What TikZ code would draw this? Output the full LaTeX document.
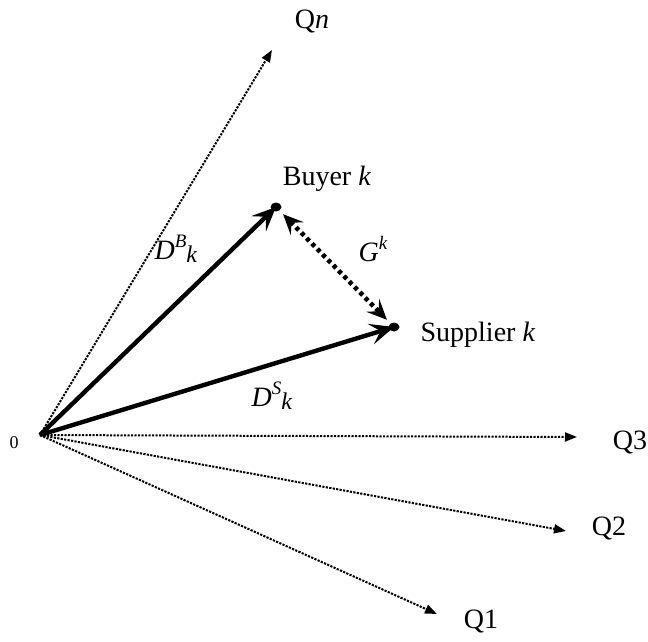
\documentclass[tikz,border=0pt]{standalone}
\usepackage{fontspec}
\setmainfont{Liberation Serif}
\usetikzlibrary{arrows.meta,shapes.geometric}
\newcommand{\supit}[1]{\raisebox{0.42em}{\fontsize{19}{20}\selectfont\textit{#1}}}
\newcommand{\subit}[1]{\raisebox{-0.12em}{\fontsize{24}{26}\selectfont\textit{#1}}}
\begin{document}
\begin{tikzpicture}[x=1pt,y=-1pt,
  lbl/.style={font=\fontsize{28}{30}\selectfont, inner sep=0pt},
  axis/.style={line width=2pt, dash pattern=on 2.2pt off 1.3pt, -{Triangle[length=12pt,width=9pt]}},
  vec/.style={line width=4.4pt, -{Stealth[length=24pt,width=21pt,inset=10pt]}},
  gap/.style={line width=4.6pt, dash pattern=on 4pt off 3.6pt, {Stealth[length=20pt,width=18pt,inset=8pt]}-{Stealth[length=20pt,width=18pt,inset=8pt]}},
  pt/.style={ellipse, fill=black, inner sep=0pt, minimum width=11pt, minimum height=9pt}]
\useasboundingbox (0,0) rectangle (648,642);
\coordinate (O) at (40,435);
\coordinate (Qn) at (272,50);
\coordinate (Q3) at (577,437);
\coordinate (Q2) at (566,531);
\coordinate (Q1) at (437,614);
\node[pt] (B) at (276,207) {};
\node[pt] (S) at (394,327) {};
\draw[axis] (O) -- (Qn);
\draw[axis] (O) -- (Q3);
\draw[axis] (O) -- (Q2);
\draw[axis] (O) -- (Q1);
\draw[vec] (O) -- (B.center);
\draw[vec] (O) -- (S.center);
\draw[gap, shorten <=5pt, shorten >=5pt] (B) -- (S);
\node[lbl] (lQn) at (312,22) {Q\textit{n}};
\node[lbl] (lB) at (327,179) {Buyer \textit{k}};
\node[lbl] (lS) at (478,335) {Supplier \textit{k}};
\node[lbl] (lG) at (373,249) {\textit{G}\supit{k}};
\node[lbl] (lDB) at (176,249) {\textit{D}\supit{B}\subit{k}};
\node[lbl] (lDS) at (272,396) {\textit{D}\supit{S}\subit{k}};
\node[lbl, font=\fontsize{18}{20}\selectfont] (l0) at (14,443) {0};
\node[lbl] (lQ3) at (630,442) {Q3};
\node[lbl] (lQ2) at (609,528) {Q2};
\node[lbl] (lQ1) at (481,621) {Q1};
\end{tikzpicture}
\end{document}
